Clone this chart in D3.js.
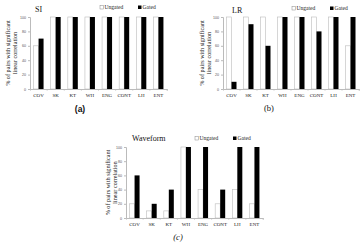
<!DOCTYPE html>
<html>
<head>
<meta charset="utf-8">
<script src="https://cdn.jsdelivr.net/npm/d3@7"></script>
<style>
  body { margin: 0; background: #fff; }
  .axis path, .axis line { stroke: #bbb; }
</style>
</head>
<body>
<div id="main"></div>
<script>
const W = 361, H = 244;
const SERIF = "'Liberation Serif', 'DejaVu Serif', serif";

const categories = ["COV", "SK", "KT", "WH", "ENG", "CONT", "LH", "ENT"];
const yTicks = [0, 20, 40, 60, 80, 100];

const siUngated = [60, 100, 100, 100, 100, 100, 100, 100];
const siGated   = [70, 100, 100, 100, 100, 100, 100, 100];
const lrUngated = [100, 100, 100, 100, 100, 100, 100, 60];
const lrGated   = [10, 90, 60, 100, 100, 80, 100, 100];
const wfUngated = [20, 10, 10, 100, 40, 20, 40, 20];
const wfGated   = [60, 20, 40, 100, 100, 40, 100, 100];

const panels = [
  { title: "SI", tag: "(a)", ung: siUngated, gat: siGated,
    x0: 30, x1: 167, y0: 17, y1: 89, tagX: 80, tagY: 112, tagStyle: "a",
    legX: 100, legY: 9, titleX: 35, titleY: 12, labX: 9.5 },
  { title: "LR", tag: "(b)", ung: lrUngated, gat: lrGated,
    x0: 223, x1: 359, y0: 17, y1: 89, tagX: 269, tagY: 111, tagStyle: "b",
    legX: 292, legY: 10, titleX: 232, titleY: 13, labX: 204 },
  { title: "Waveform", tag: "(c)", ung: wfUngated, gat: wfGated,
    x0: 126, x1: 263, y0: 147, y1: 218, tagX: 178, tagY: 240, tagStyle: "c",
    legX: 195, legY: 140, titleX: 132, titleY: 141, labX: 109.5 }
];

const svg = d3.select("#main").append("svg")
  .attr("width", W).attr("height", H);

panels.forEach(p => {
  const g = svg.append("g");
  const x = d3.scaleBand().domain(categories).range([p.x0, p.x1]);
  const y = d3.scaleLinear().domain([0, 100]).range([p.y1, p.y0]);
  const bw = 5;

  // y axis
  const ya = g.append("g").attr("class", "axis")
    .attr("transform", `translate(${p.x0},0)`)
    .call(d3.axisLeft(y).tickValues(yTicks).tickSize(2).tickPadding(2));
  ya.selectAll("text").attr("font-size", 3.6).attr("fill", "#555")
    .attr("font-family", "'Liberation Sans', sans-serif");

  // x axis
  const xa = g.append("g").attr("class", "axis")
    .attr("transform", `translate(0,${p.y1})`)
    .call(d3.axisBottom(x).tickSize(1.5).tickPadding(2.5));
  xa.selectAll("text").attr("font-size", 5).attr("fill", "#222")
    .attr("font-family", SERIF);
  xa.selectAll(".tick line").attr("transform", `translate(${x.bandwidth() / 2},0)`);

  // bars
  g.selectAll(".ung").data(p.ung).enter().append("rect")
    .attr("x", (d, i) => x(categories[i]) + x.bandwidth() / 2 - bw)
    .attr("y", d => y(d))
    .attr("width", bw)
    .attr("height", d => y(0) - y(d))
    .attr("fill", "#fff").attr("stroke", "#bbb").attr("stroke-width", 0.6);
  g.selectAll(".gat").data(p.gat).enter().append("rect")
    .attr("x", (d, i) => x(categories[i]) + x.bandwidth() / 2)
    .attr("y", d => y(d))
    .attr("width", bw)
    .attr("height", d => y(0) - y(d))
    .attr("fill", "#000");

  // title
  g.append("text").attr("x", p.titleX).attr("y", p.titleY)
    .attr("font-family", SERIF)
    .attr("font-size", 8).attr("fill", "#111").text(p.title);

  // legend
  g.append("rect").attr("x", p.legX).attr("y", p.legY - 3.5).attr("width", 3.5).attr("height", 3.5)
    .attr("fill", "#fff").attr("stroke", "#888").attr("stroke-width", 0.5);
  g.append("text").attr("x", p.legX + 4.5).attr("y", p.legY)
    .attr("font-family", SERIF)
    .attr("font-size", 5.5).attr("fill", "#222").text("Ungated");
  g.append("rect").attr("x", p.legX + 38).attr("y", p.legY - 3.5).attr("width", 3.5).attr("height", 3.5)
    .attr("fill", "#000");
  g.append("text").attr("x", p.legX + 42.5).attr("y", p.legY)
    .attr("font-family", SERIF)
    .attr("font-size", 5.5).attr("fill", "#222").text("Gated");

  // y label
  const cy = (p.y0 + p.y1) / 2;
  const yl = g.append("text")
    .attr("transform", `translate(${p.labX},${cy}) rotate(-90)`)
    .attr("font-family", SERIF)
    .attr("text-anchor", "middle").attr("font-size", 6.2).attr("fill", "#222");
  yl.append("tspan").attr("x", 0).attr("dy", 0).text("% of  pairs with significant");
  yl.append("tspan").attr("x", 0).attr("dy", 7).text("linear correlation");

  // panel tag
  const t = g.append("text").attr("x", p.tagX).attr("y", p.tagY)
    .attr("font-family", SERIF)
    .attr("text-anchor", "middle").attr("font-size", 8.5).attr("fill", "#111").text(p.tag);
  if (p.tagStyle === "a") t.attr("font-family", "'Liberation Sans', sans-serif").attr("font-weight", "bold");
  if (p.tagStyle === "c") t.attr("font-style", "italic");
});
</script>
</body>
</html>
